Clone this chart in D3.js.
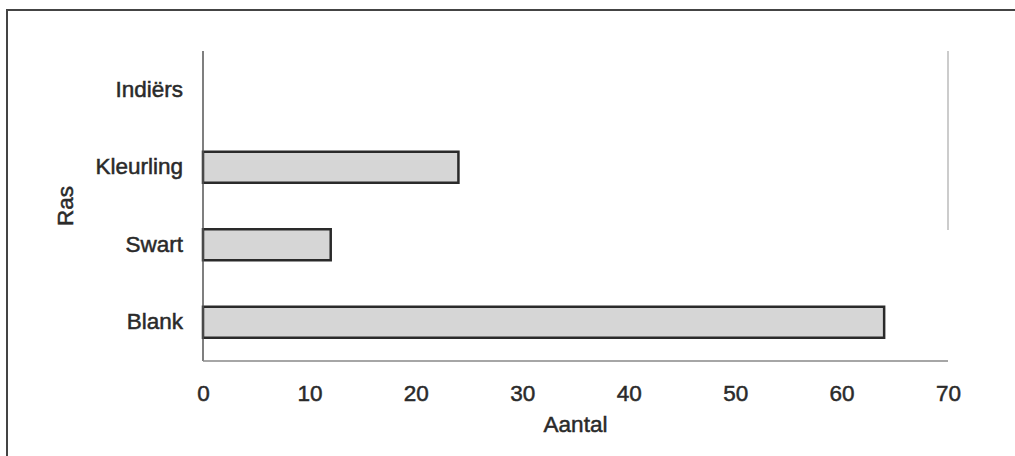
<!DOCTYPE html>
<html><head><meta charset="utf-8">
<script src="https://cdn.jsdelivr.net/npm/d3@7"></script>
<style>body{margin:0;background:#fff;} svg{display:block;}</style>
</head><body>
<script>
const categories = ["Indiërs", "Kleurling", "Swart", "Blank"];
const values = [0, 24, 12, 64];
const xTicks = [0, 10, 20, 30, 40, 50, 60, 70];
const xTitle = "Aantal";
const yTitle = "Ras";

(function () {
const W = 1015, H = 456;
const svg = d3.select("body").append("svg").attr("width", W).attr("height", H);
svg.append("rect").attr("width", W).attr("height", H).attr("fill", "#fff");
// frame
svg.append("path").attr("d", `M7,${H+2} L7,10 L${W+2},10`).attr("fill", "none").attr("stroke", "#444").attr("stroke-width", 2);

const pL = 203, pR = 948, pT = 51, pB = 361;
const x = d3.scaleLinear().domain([0, 70]).range([pL, pR]);
const y = d3.scaleBand().domain(categories).range([pT, pB]).paddingInner(0.6).paddingOuter(0.3);

const font = "Liberation Sans, Arial, sans-serif";
const styleText = sel => sel.attr("font-family", font).attr("font-size", 22.5).attr("fill", "#2a2a2a")
  .attr("stroke", "#2a2a2a").attr("stroke-width", 0.5);

// right faint line
svg.append("line").attr("x1", pR).attr("x2", pR).attr("y1", pT).attr("y2", 230).attr("stroke", "#bbb").attr("stroke-width", 1.5);

// bars
svg.selectAll("rect.bar").data(categories).join("rect").attr("class", "bar")
  .attr("x", x(0)).attr("y", d => y(d))
  .attr("width", (d, i) => x(values[i]) - x(0))
  .attr("height", y.bandwidth())
  .attr("fill", "#d6d6d6").attr("stroke", "#2a2a2a").attr("stroke-width", 2.5)
  .attr("display", (d, i) => values[i] > 0 ? null : "none");

// y axis line
svg.append("line").attr("x1", pL).attr("x2", pL).attr("y1", pT).attr("y2", pB).attr("stroke", "#555").attr("stroke-width", 1.5);
// x axis line
svg.append("line").attr("x1", pL).attr("x2", pR).attr("y1", pB).attr("y2", pB).attr("stroke", "#888").attr("stroke-width", 1.5);

const xAxis = svg.append("g").attr("transform", `translate(0,${pB})`)
  .call(d3.axisBottom(x).tickValues(xTicks).tickSize(0).tickPadding(24));
xAxis.select(".domain").remove();
styleText(xAxis.selectAll("text"));

const yAxis = svg.append("g").attr("transform", `translate(${pL},0)`)
  .call(d3.axisLeft(y).tickSize(0).tickPadding(20));
yAxis.select(".domain").remove();
styleText(yAxis.selectAll("text"));

styleText(svg.append("text").attr("x", (pL + pR) / 2).attr("y", 432).attr("text-anchor", "middle").text(xTitle));
styleText(svg.append("text").attr("transform", `translate(73,${(pT + pB) / 2}) rotate(-90)`).attr("text-anchor", "middle").text(yTitle));
})();
</script>
</body></html>
